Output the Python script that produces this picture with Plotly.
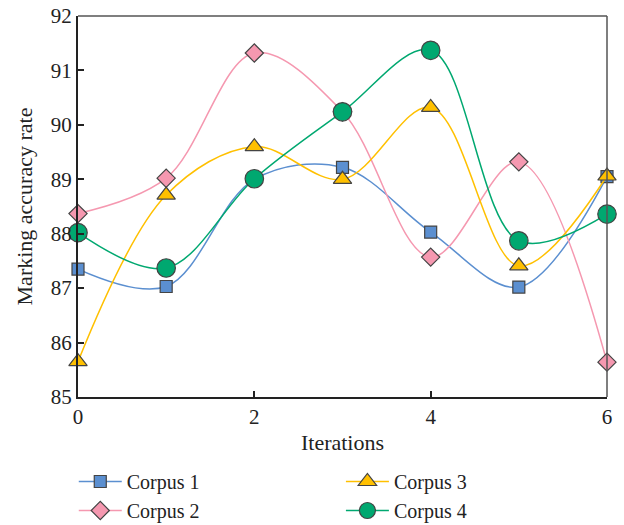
import plotly.graph_objects as go

iterations = [0, 1, 2, 3, 4, 5, 6]
corpus1 = [87.35, 87.03, 89.0, 89.22, 88.03, 87.02, 89.05]
corpus2 = [88.37, 89.02, 91.32, 90.24, 87.57, 89.32, 85.64]
corpus3 = [85.65, 88.71, 89.6, 89.0, 90.32, 87.41, 89.06]
corpus4 = [88.02, 87.37, 89.01, 90.24, 91.37, 87.87, 88.36]

names = ["Corpus 1", "Corpus 2", "Corpus 3", "Corpus 4"]
series = [corpus1, corpus2, corpus3, corpus4]
colors = ["#5B8FD0", "#F598B0", "#FFC000", "#00A870"]
symbols = ["square", "diamond", "triangle-up", "circle"]
sizes = [12, 14, 16, 18.5]
legends = ["legend", "legend", "legend2", "legend2"]

FONT = "Liberation Serif"

fig = go.Figure()
for name, ys, c, sym, sz, lg in zip(names, series, colors, symbols, sizes, legends):
    fig.add_trace(go.Scatter(
        x=iterations, y=ys, name=name, mode="lines+markers",
        line=dict(color=c, width=1.5, shape="spline", smoothing=1.0),
        marker=dict(symbol=sym, size=sz, color=c, line=dict(color="#444", width=1.2)),
        legend=lg, cliponaxis=False,
    ))

leg_common = dict(orientation="v", xanchor="left", yref="container", yanchor="top",
                  y=0.12, font=dict(size=20, family=FONT, color="#222"),
                  traceorder="normal", itemwidth=43, tracegroupgap=0,
                  bgcolor="rgba(0,0,0,0)")

fig.update_layout(
    width=624, height=525,
    margin=dict(l=78, r=17, t=16, b=128),
    plot_bgcolor="white", paper_bgcolor="white",
    font=dict(family=FONT, size=20, color="#222"),
    xaxis=dict(range=[0, 6], tickvals=[0, 2, 4, 6], ticks="inside", ticklen=6,
               tickcolor="#222", tickwidth=1.5, showgrid=False, zeroline=False,
               showline=True, linecolor="#222", linewidth=2, automargin=False,
               tickfont=dict(size=21),
               title=dict(text="Iterations", font=dict(size=22), standoff=6)),
    yaxis=dict(range=[85, 92], dtick=1, ticks="inside", ticklen=6,
               tickcolor="#222", tickwidth=1.5, showgrid=False, zeroline=False,
               showline=True, linecolor="#222", linewidth=2, automargin=False,
               tickfont=dict(size=21),
               title=dict(text="Marking accuracy rate", font=dict(size=22), standoff=12)),
    legend=dict(x=-0.008, **leg_common),
    legend2=dict(x=0.497, **leg_common),
    shapes=[
        dict(type="line", xref="paper", yref="paper", x0=0, x1=1, y0=1, y1=1,
             line=dict(color="#555", width=1.5)),
        dict(type="line", xref="paper", yref="paper", x0=1, x1=1, y0=0, y1=1,
             line=dict(color="#555", width=1.5)),
    ],
)

fig.write_html("out.html")
